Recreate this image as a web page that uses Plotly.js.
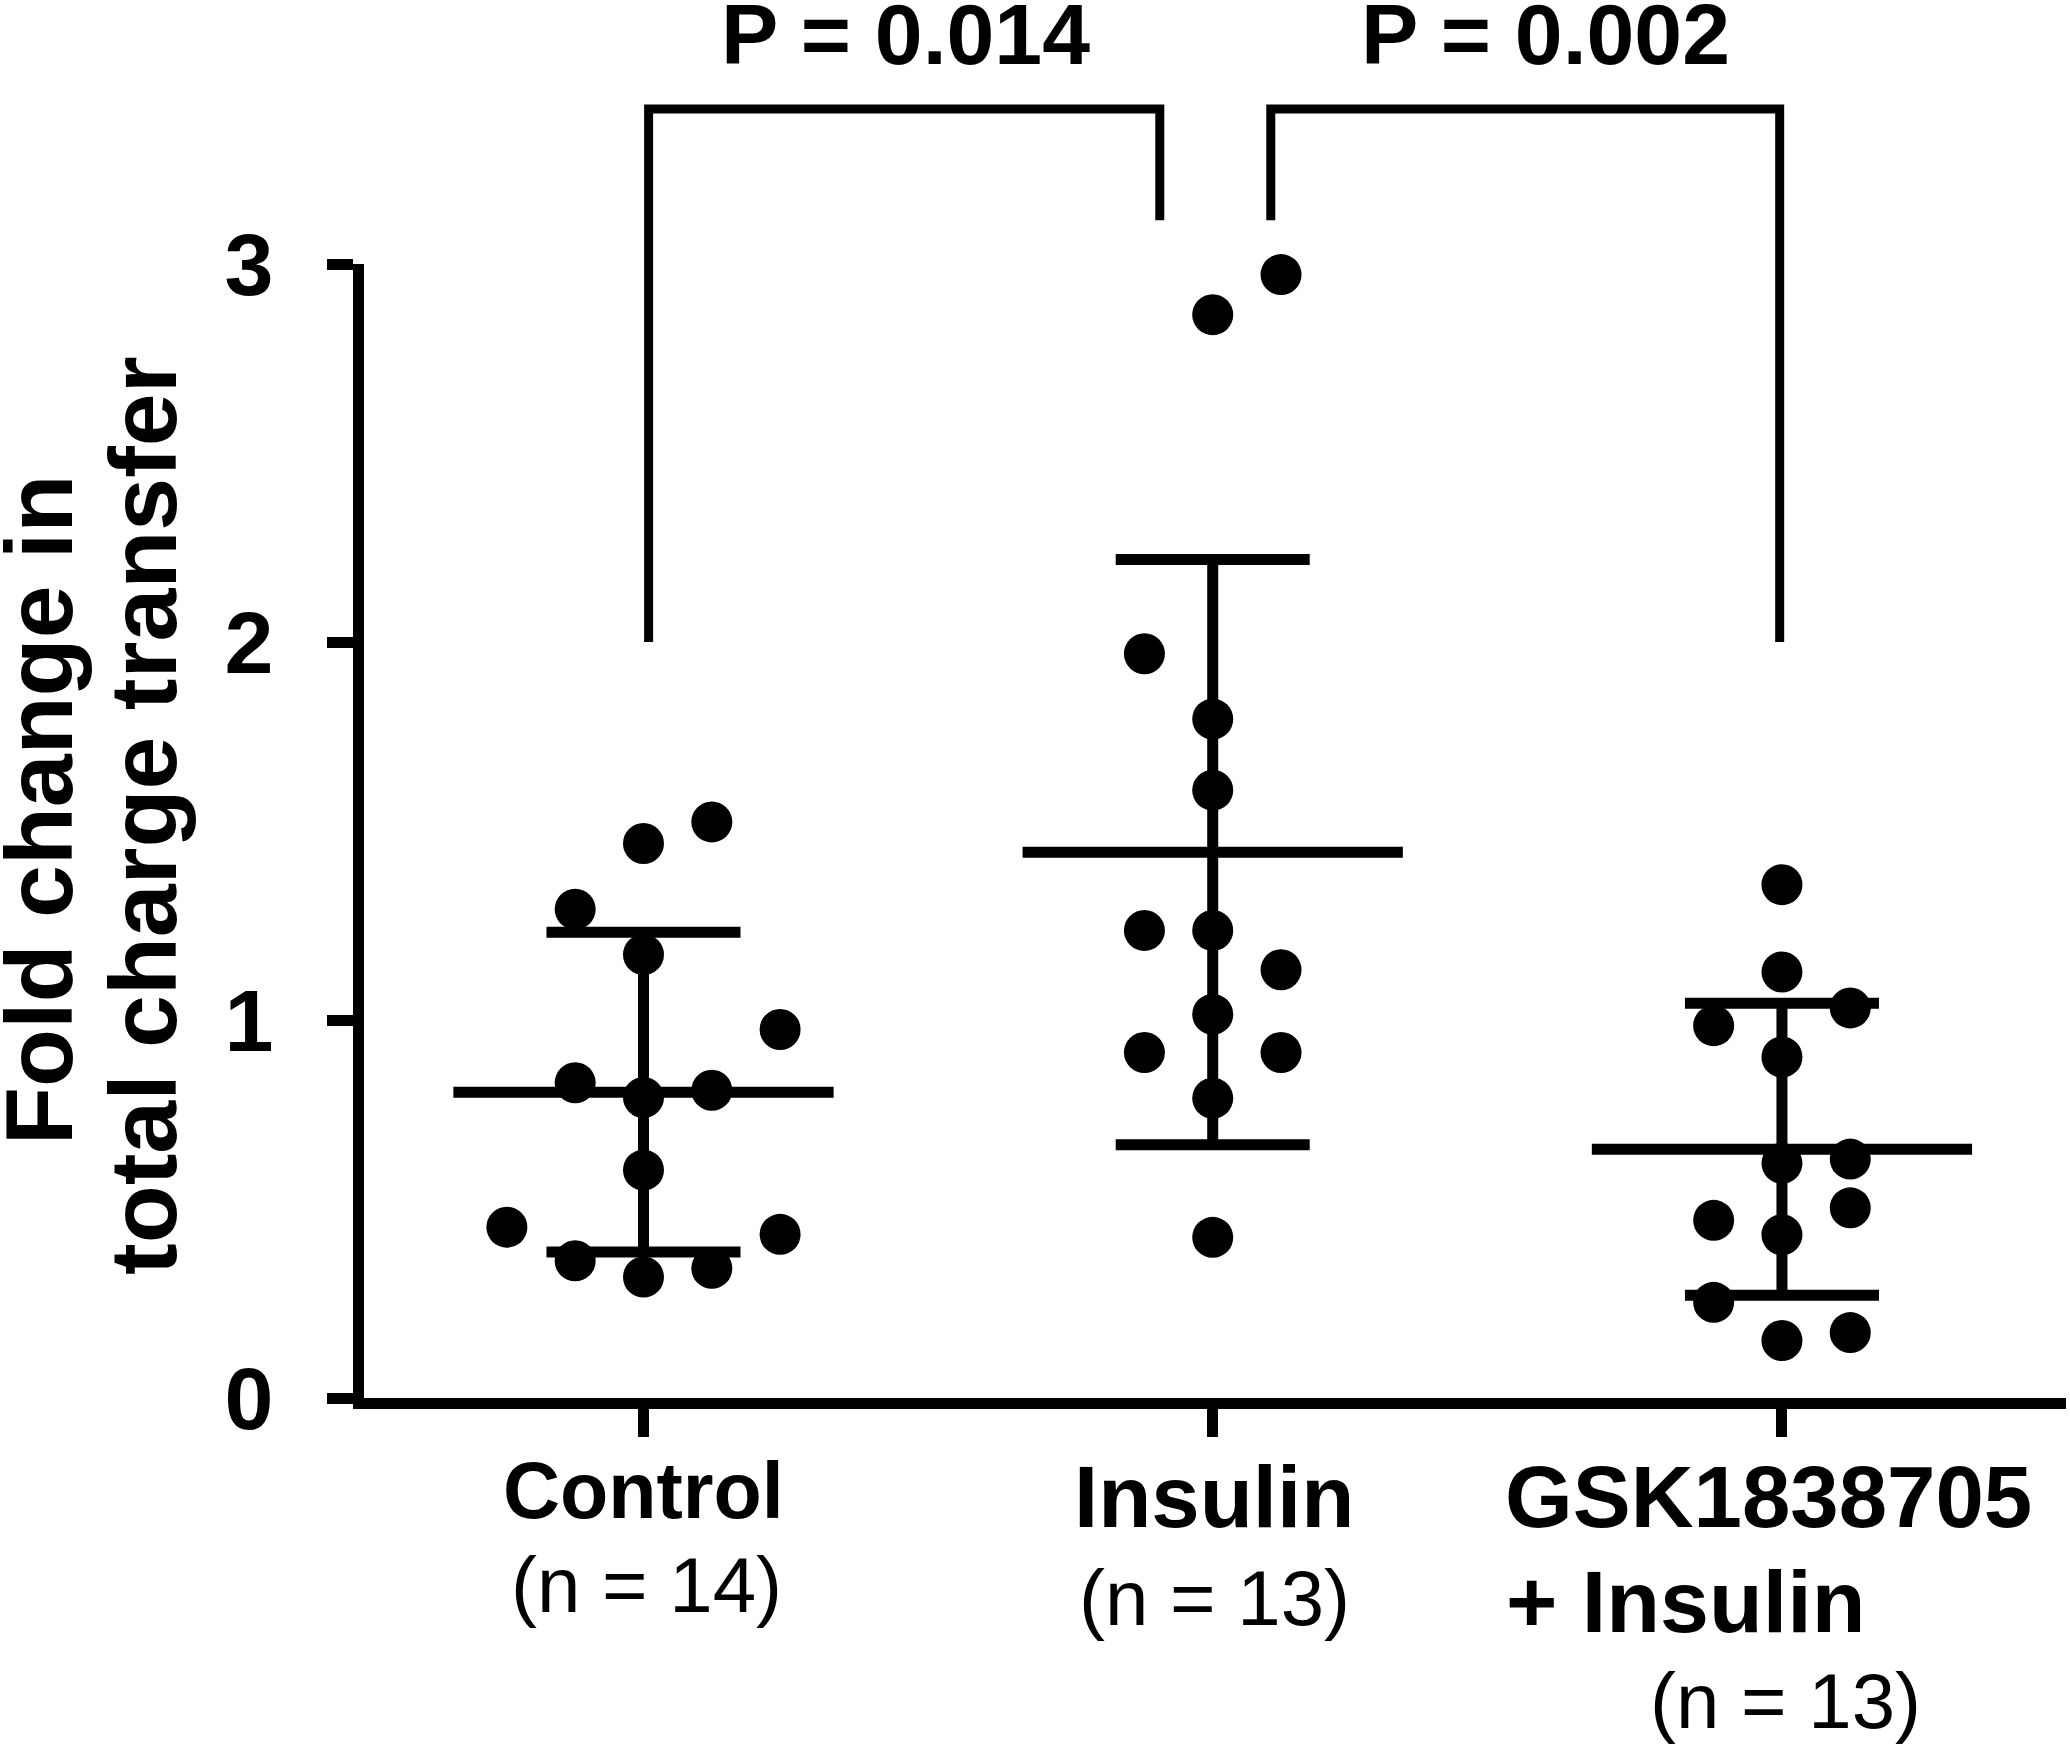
<!DOCTYPE html>
<html><head><meta charset="utf-8">
<script src="https://cdn.plot.ly/plotly-3.0.1.min.js"></script>
<style>html,body{margin:0;padding:0;background:#fff}#chart{width:2070px;height:1744px}</style>
</head><body><div id="chart"></div>
<script>
// ---- data ----
const categories = ['Control', 'Insulin', 'GSK1838705', '+ Insulin'];
const groupNames = ['Control', 'Insulin', 'GSK1838705 + Insulin'];
const nCounts = [14, 13, 13];
const controlValues = [1.524, 1.467, 1.293, 1.173, 0.975, 0.834, 0.795, 0.814, 0.603, 0.452, 0.433, 0.363, 0.320, 0.343];
const controlCols   = [1, 0, -1, 0, 2, -1, 0, 1, 0, -2, 2, -1, 0, 1];
const insulinValues = [2.972, 2.866, 1.969, 1.796, 1.608, 1.237, 1.237, 1.133, 1.015, 0.914, 0.914, 0.793, 0.425];
const insulinCols   = [1, 0, -1, 0, 0, -1, 0, 1, 0, -1, 1, 0, 0];
const gskValues     = [1.358, 1.127, 0.985, 1.032, 0.902, 0.621, 0.632, 0.503, 0.470, 0.432, 0.253, 0.152, 0.173];
const gskCols       = [0, 0, -1, 1, 0, 0, 1, 1, -1, 0, -1, 0, 1];
const groupMeans = [0.809, 1.444, 0.658];
const groupSDs   = [0.423, 0.774, 0.386];
const pValues = ['P = 0.014', 'P = 0.002'];
const yTickVals = [0, 1, 2, 3];
const yTitleLines = ['Fold change in', 'total charge transfer'];

// ---- geometry / style ----
const W = 2070, H = 1744;
const M = {l: 364, r: 4, t: 264, b: 346};
const plotW = W - M.l - M.r, plotH = H - M.t - M.b;
const XR = [-0.491, 2.499], YR = [0, 3];
const colStep = 0.12, meanHalf = 0.334;
const FONT = 'Liberation Sans, Arial, sans-serif';
const px2paperX = X => (X - M.l) / plotW;
const px2paperY = Y => (H - M.b - Y) / plotH;
const val2paperY = v => (v - YR[0]) / (YR[1] - YR[0]);

const groups = [
  {vals: controlValues, cols: controlCols},
  {vals: insulinValues, cols: insulinCols},
  {vals: gskValues, cols: gskCols}
];

const traces = groups.map((g, i) => ({
  type: 'scatter', mode: 'markers', name: groupNames[i],
  x: g.cols.map(c => i + c * colStep), y: g.vals,
  marker: {size: 41, color: '#000', line: {width: 0}},
  cliponaxis: false, hoverinfo: 'y', showlegend: false
}));
traces.push({
  type: 'scatter', mode: 'markers',
  x: [0, 1, 2], y: groupMeans,
  marker: {size: 1, color: 'rgba(0,0,0,0)'},
  error_y: {type: 'data', array: groupSDs, visible: true, color: '#000', thickness: 11, width: 97},
  error_x: {type: 'data', array: groupMeans.map(() => meanHalf), visible: true, color: '#000', thickness: 11, width: 0},
  cliponaxis: false, hoverinfo: 'skip', showlegend: false
});

// brackets
const brackets = [
  {x0: 0.009, x1: 0.907, yL: 2.0, yR: 3.116, top: 3.41},
  {x0: 1.102, x1: 1.996, yL: 3.116, yR: 2.0, top: 3.41}
];
const shapes = brackets.map(b => ({
  type: 'path', xref: 'x', yref: 'paper', layer: 'above',
  path: `M${b.x0},${val2paperY(b.yL)} L${b.x0},${val2paperY(b.top)} L${b.x1},${val2paperY(b.top)} L${b.x1},${val2paperY(b.yR)}`,
  line: {color: '#000', width: 9}
}));

function ann(text, cx, baseline, size, bold, anchor) {
  return {
    text: text, xref: 'paper', yref: 'paper', x: px2paperX(cx), y: px2paperY(baseline - 0.3465 * size),
    xanchor: anchor || 'center', yanchor: 'middle', showarrow: false, borderpad: 0,
    font: {family: FONT, size: size, color: '#000', weight: bold ? 'bold' : 'normal'}
  };
}
function rot(text, cx, cy, size) {
  return {
    text: text, xref: 'paper', yref: 'paper', x: px2paperX(cx), y: px2paperY(cy),
    xanchor: 'center', yanchor: 'middle', showarrow: false, textangle: -90, borderpad: 0,
    font: {family: FONT, size: size, color: '#000', weight: 'bold'}
  };
}
const annotations = [
  ann(pValues[0], 905, 64, 86, true),
  ann(pValues[1], 1545, 64, 86, true),
  ann(categories[0], 643, 1518, 79, true),
  ann('(n = ' + nCounts[0] + ')', 646, 1612, 78, false),
  ann(categories[1], 1214, 1527, 87, true),
  ann('(n = ' + nCounts[1] + ')', 1214, 1625, 78, false),
  ann(categories[2], 1504, 1527, 87, true, 'left'),
  ann(categories[3], 1505, 1632, 88, true, 'left'),
  ann('(n = ' + nCounts[2] + ')', 1785, 1728, 78, false),
  rot(yTitleLines[0], 39, 810, 95),
  rot(yTitleLines[1], 143, 816, 95)
];

const layout = {
  width: W, height: H, margin: M,
  paper_bgcolor: '#fff', plot_bgcolor: '#fff',
  font: {family: FONT, color: '#000'},
  xaxis: {range: XR, tickvals: [0, 1, 2], showticklabels: false, ticks: 'outside', ticklen: 28, tickwidth: 11,
          tickcolor: '#000', showline: true, linewidth: 11, linecolor: '#000', showgrid: false, zeroline: false, fixedrange: true},
  yaxis: {range: YR, tickvals: yTickVals, ticktext: yTickVals.map(String), ticks: 'outside', ticklen: 26, tickwidth: 11,
          ticklabelstandoff: 36,
          tickcolor: '#000', showline: true, linewidth: 11, linecolor: '#000', showgrid: false, zeroline: false,
          tickfont: {family: FONT, size: 88, color: '#000', weight: 'bold'}, fixedrange: true},
  shapes: shapes,
  annotations: annotations,
  showlegend: false
};
Plotly.newPlot('chart', traces, layout, {staticPlot: true, displayModeBar: false});
</script></body></html>
